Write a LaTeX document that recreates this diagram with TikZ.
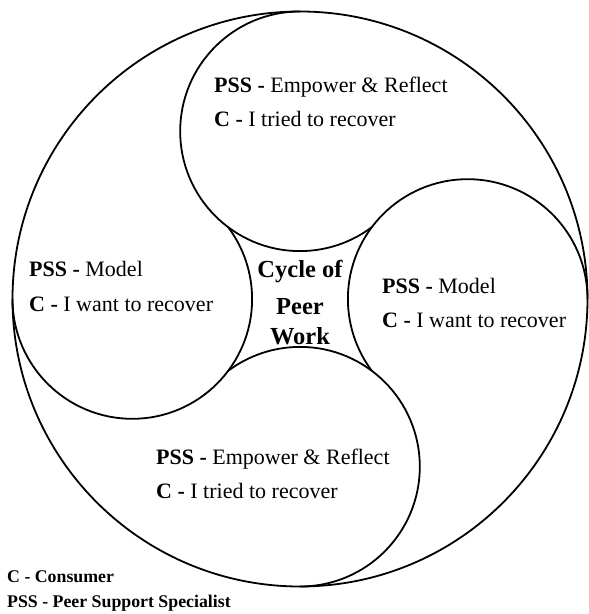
\documentclass[tikz,border=0pt]{standalone}
\usepackage{fontspec}
\setmainfont{Liberation Serif}
\usetikzlibrary{calc}
\begin{document}
\begin{tikzpicture}[x=1pt,y=1pt,
  ring/.style={line width=1.8pt, line cap=round},
  lobetext/.style={anchor=base west, inner sep=0pt, font=\fontsize{22}{26}\selectfont},
  hubtext/.style={anchor=base, inner sep=0pt, font=\fontsize{24.5}{29}\selectfont\bfseries},
  keytext/.style={anchor=base west, inner sep=0pt, font=\fontsize{17.8}{21}\selectfont\bfseries}]
\useasboundingbox (0,0) rectangle (589,614);
% outer radius, offset of the lobe centres, lobe radius
\def\Rout{287.5}
\def\dOff{167.7}
\def\rLobe{119.8}
% half-distance of the inner crossing points (worked in hundreds to stay small),
% and the arc length of each lobe
\pgfmathsetmacro\sCross{(\dOff - 100*sqrt(2*(\rLobe/100)^2 - (\dOff/100)^2))/2}
\pgfmathsetmacro\sweep{270 - acos(\sCross/\rLobe)}
\coordinate (hub) at (300,315);
\draw[ring] (hub) circle[radius=\Rout];
% four lobes, each starting where it touches the rim
\foreach \t/\nm in {90/lobeN, 0/lobeE, 270/lobeS, 180/lobeW}{
  \coordinate (\nm) at ($(hub)+(\t:\dOff)$);
  \draw[ring] (\nm) ++(\t:\rLobe) arc[start angle=\t, delta angle=\sweep, radius=\rLobe];
}
% lobe labels
\node[lobetext] (nA) at (214,521.5) {\textbf{PSS -} Empower \& Reflect};
\node[lobetext] (nB) at (214,487) {\textbf{C -} I tried to recover};
\node[lobetext] (wA) at (29,337) {\textbf{PSS -} Model};
\node[lobetext] (wB) at (29,302) {\textbf{C -} I want to recover};
\node[lobetext] (eA) at (382,320.3) {\textbf{PSS -} Model};
\node[lobetext] (eB) at (382,286) {\textbf{C -} I want to recover};
\node[lobetext] (sA) at (156,149) {\textbf{PSS -} Empower \& Reflect};
\node[lobetext] (sB) at (156,115) {\textbf{C -} I tried to recover};
% centre
\node[hubtext] (h1) at (300,336) {Cycle of};
\node[hubtext] (h2) at (300,299) {Peer};
\node[hubtext] (h3) at (300,269) {Work};
% key
\node[keytext] (k1) at (7,31) {C - Consumer};
\node[keytext] (k2) at (7,6) {PSS - Peer Support Specialist};
\end{tikzpicture}
\end{document}
